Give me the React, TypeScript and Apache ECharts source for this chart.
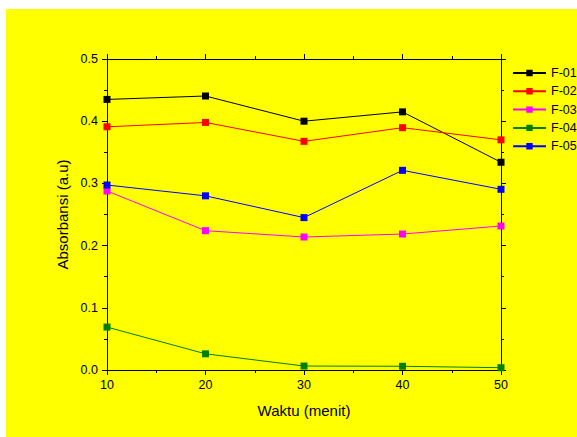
import React, { useEffect, useRef } from "react";
import * as echarts from "echarts";

const categories = [10, 20, 30, 40, 50];
const seriesNames = ["F-01", "F-02", "F-03", "F-04", "F-05"];
const f01 = [0.435, 0.4405, 0.4, 0.415, 0.334];
const f02 = [0.391, 0.398, 0.3676, 0.3896, 0.37];
const f03 = [0.2878, 0.224, 0.2138, 0.2186, 0.2315];
const f04 = [0.069, 0.026, 0.0064, 0.006, 0.0037];
const f05 = [0.2974, 0.28, 0.245, 0.321, 0.2905];
const seriesValues = [f01, f02, f03, f04, f05];
const seriesColors = ["#000000", "#ff0000", "#ff00ff", "#008000", "#0000ff"];

const FONT = "'Liberation Sans', Arial, sans-serif";

export default function App() {
  const ref = useRef<HTMLDivElement>(null);
  useEffect(() => {
    if (!ref.current) return;
    const chart = echarts.init(ref.current, null, { renderer: "svg" });
    const axisLine = { show: true, onZero: false, lineStyle: { color: "#000", width: 1 } };
    const xBase = {
      type: "value",
      min: 10,
      max: 50,
      interval: 10,
      splitLine: { show: false },
      axisLine,
      minorTick: { show: true, splitNumber: 2, length: 3, lineStyle: { color: "#000" } },
      axisTick: { show: true, length: 5, inside: false, lineStyle: { color: "#000" } },
    };
    const yBase = {
      type: "value",
      min: 0,
      max: 0.5,
      interval: 0.1,
      splitLine: { show: false },
      axisLine,
      minorTick: { show: true, splitNumber: 2, length: 3, lineStyle: { color: "#000" } },
      axisTick: { show: true, length: 5, inside: false, lineStyle: { color: "#000" } },
    };
    chart.setOption({
      animation: false,
      backgroundColor: "#ffff00",
      textStyle: { fontFamily: FONT },
      grid: { left: 101, right: 76, top: 50, bottom: 67, containLabel: false },
      legend: {
        orient: "vertical",
        left: 506,
        top: 57.5,
        padding: 0,
        itemWidth: 33,
        itemHeight: 8,
        itemGap: 5.3,
        data: seriesNames,
        textStyle: { fontFamily: FONT, fontSize: 12.5, color: "#000", padding: [0, 0, 0, 0] },
      },
      xAxis: [
        {
          ...xBase,
          position: "bottom",
          name: "Waktu (menit)",
          nameLocation: "middle",
          nameGap: 33,
          nameTextStyle: { fontFamily: FONT, fontSize: 15, color: "#000" },
          axisLabel: { show: true, margin: 8, fontFamily: FONT, fontSize: 12.5, color: "#000" },
        },
        { ...xBase, position: "top", axisLabel: { show: false } },
      ],
      yAxis: [
        {
          ...yBase,
          position: "left",
          name: "Absorbansi (a.u)",
          nameLocation: "middle",
          nameGap: 36,
          nameTextStyle: { fontFamily: FONT, fontSize: 15, color: "#000" },
          axisLabel: {
            show: true,
            margin: 9,
            fontFamily: FONT,
            fontSize: 12.5,
            color: "#000",
            formatter: (v: number) => v.toFixed(1),
          },
        },
        { ...yBase, position: "right", axisLabel: { show: false } },
      ],
      series: seriesNames.map((name, i) => ({
        name,
        type: "line",
        xAxisIndex: 0,
        yAxisIndex: 0,
        data: categories.map((c, j) => [c, seriesValues[i][j]]),
        symbol: "rect",
        symbolSize: 7,
        color: seriesColors[i],
        lineStyle: { color: seriesColors[i], width: 1 },
        itemStyle: { color: seriesColors[i] },
        clip: false,
      })),
    });
    return () => chart.dispose();
  }, []);
  return (
    <div style={{ position: "absolute", left: 0, top: 0, width: 577, height: 437, background: "#fff", overflow: "hidden" }}>
      <div ref={ref} style={{ position: "absolute", left: 6, top: 9, width: 571, height: 428 }} />
    </div>
  );
}
